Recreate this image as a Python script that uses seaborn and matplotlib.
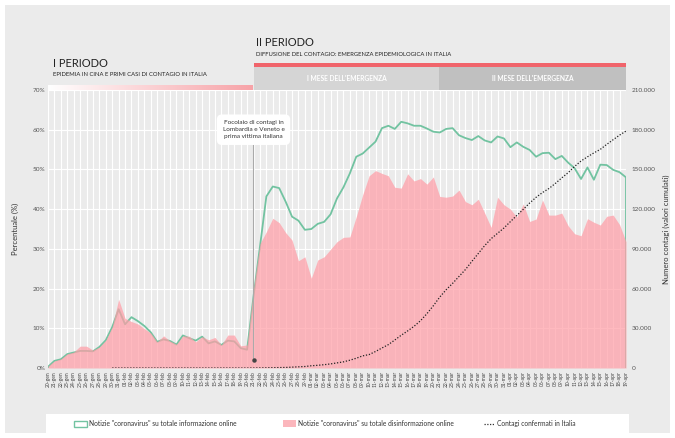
import numpy as np
import pandas as pd
import matplotlib
matplotlib.use("Agg")
import matplotlib.pyplot as plt
import seaborn as sns
from matplotlib.patches import Rectangle
from matplotlib.lines import Line2D
from matplotlib.colors import LinearSegmentedColormap

sns.set_theme(style="darkgrid")
plt.rcParams['font.family'] = ['Lato', 'DejaVu Sans']

# ---------------- data ----------------
mesi = {1: 'gen', 2: 'feb', 3: 'mar', 4: 'apr'}
giorni = pd.date_range("2020-01-20", "2020-04-19")
date_labels = [f"{d.day:02d}-{mesi[d.month]}" for d in giorni]

info_pct = [0.3, 1.8, 2.2, 3.5, 3.9, 4.3, 4.3, 4.2, 5.3, 7.0, 10.3, 14.8, 11.0, 12.8, 11.8, 10.6,
            9.0, 6.6, 7.2, 6.8, 5.9, 8.2, 7.5, 6.9, 7.9, 6.2, 6.7, 5.8, 6.9, 6.7, 5.0, 4.6,
            18.0,
            30.5, 43.2, 45.7, 45.3, 41.9, 38.1, 37.1, 34.8, 35.0, 36.3, 36.8, 38.7, 42.7, 45.5,
            49.0, 53.2, 54.0, 55.5, 57.0, 60.4, 61.0, 60.2, 62.0, 61.6, 61.0, 61.0, 60.3, 59.5, 59.3,
            60.2, 60.4, 58.6, 57.9, 57.4, 58.4, 57.3, 56.8, 58.3, 57.8, 55.6, 56.8, 55.7, 54.9,
            53.2, 54.1, 54.2, 52.6, 53.4, 51.7, 50.3, 47.6, 50.5, 47.4, 51.2, 51.1, 49.9, 49.3, 48.0]

disinfo_pct = [0.5, 1.8, 2.3, 3.6, 4.0, 5.5, 5.5, 4.5, 5.3, 7.0, 10.4, 17.3, 12.5, 11.7, 11.1, 9.9,
               8.8, 6.6, 8.1, 6.8, 6.0, 8.1, 8.0, 6.6, 7.9, 7.1, 7.7, 5.8, 8.3, 8.3, 5.6, 5.8,
               20.0,
               31.3, 34.3, 37.7, 36.6, 34.1, 32.2, 27.0, 28.0, 22.6, 27.2, 28.0, 29.9, 31.8, 32.9,
               33.0, 38.1, 43.6, 48.4, 49.7, 49.0, 48.4, 45.5, 45.3, 48.9, 47.1, 47.7, 46.3, 48.1, 43.2,
               43.0, 43.3, 44.8, 41.9, 41.1, 42.5, 39.0, 35.4, 43.0, 41.1, 40.0, 38.0, 41.3, 36.9,
               37.5, 42.3, 38.5, 38.5, 39.0, 35.8, 33.8, 33.3, 37.6, 36.7, 36.0, 38.2, 38.5, 36.1, 31.8]

contagi = [np.nan] * 10 + [2, 2, 2, 2, 2, 2, 2, 3, 3, 3, 3, 3, 3, 3, 3, 3, 3, 3, 3, 3, 3, 3,
           20, 79, 152, 229, 322, 400, 650, 888, 1128,
           1694, 2036, 2502, 3089, 3858, 4636, 5883, 7375, 9172, 10149, 12462, 15113, 17660,
           21157, 24747, 27980, 31506, 35713, 41035, 47021, 53578, 59138, 63927, 69176, 74386,
           80539, 86498, 92472, 97689, 101739, 105792,
           110574, 115242, 119827, 124632, 128948, 132547, 135586, 139422, 143626, 147577,
           152271, 156363, 159516, 162488, 165155, 168941, 172434, 175925, 178972]

pct_ticks = [0, 10, 20, 30, 40, 50, 60, 70]
contagi_ticks = [0, 30000, 60000, 90000, 120000, 150000, 180000, 210000]

evento_idx = 32
evento_testo = "Focolaio di contagi in\nLombardia e Veneto e\nprima vittima italiana"

GREEN = '#72c3a1'
PINK = '#ff9ea7'
BG = '#ebebeb'

W, H = 675, 438
def fx(px):
    return px / W
def fy(py):
    return 1 - py / H

fig = plt.figure(figsize=(6.75, 4.38), dpi=100)
fig.patch.set_facecolor('white')
fig.add_artist(Rectangle((fx(5), fy(433)), fx(670) - fx(5), fy(5) - fy(433),
                         transform=fig.transFigure, facecolor=BG, edgecolor='none', zorder=-10))

ax = fig.add_axes([fx(48), fy(368), fx(626) - fx(48), fy(90) - fy(368)])
ax.set_facecolor(BG)
xs = np.arange(len(date_labels))

# green series drawn as an outlined area (no fill)
gx = np.r_[xs[0], xs, xs[-1]]
gy = np.r_[0, info_pct, 0]
sns.lineplot(x=gx, y=gy, estimator=None, sort=False, color=GREEN, lw=1.3, ax=ax, zorder=2)
ax.fill_between(xs, disinfo_pct, color=PINK, alpha=0.72, lw=0, zorder=3)

ax.set_xlim(0, len(xs) - 1)
ax.set_ylim(0, 70)
ax.set_xticks(xs)
ax.set_xticklabels(date_labels, rotation=90, fontsize=3.6, color='#444444')
ax.set_yticks(pct_ticks)
ax.set_yticklabels([f"{v}%" for v in pct_ticks], fontsize=4.6, color='#555555')
ax.tick_params(length=0, pad=2)
ax.grid(True, color='white', lw=0.8)
ax.set_axisbelow(True)
for s in ax.spines.values():
    s.set_visible(False)
ax.set_xlabel('')
ax.set_ylabel('Percentuale (%)', fontsize=5.5, color='#333333', labelpad=10)

ax2 = ax.twinx()
sns.lineplot(x=xs, y=contagi, color='#222222', lw=0.9, ax=ax2, zorder=5)
ax2.lines[-1].set_linestyle((0, (1, 1.4)))
ax2.set_ylim(0, 210000)
ax2.set_yticks(contagi_ticks)
ax2.set_yticklabels([f"{v:,}".replace(',', '.') for v in contagi_ticks], fontsize=4.6, color='#555555')
ax2.tick_params(length=0, pad=4)
ax2.grid(False)
for s in ax2.spines.values():
    s.set_visible(False)
ax2.set_ylabel('Numero contagi (valori cumulati)', fontsize=5.5, color='#333333', labelpad=5)

# annotation
ax.annotate(evento_testo, xy=(evento_idx, 2.0), xytext=(evento_idx, 60),
            ha='center', va='center', fontsize=4.6, color='#333333', linespacing=1.5,
            bbox=dict(boxstyle='round,pad=0.9,rounding_size=0.8', fc='white', ec='none'),
            arrowprops=dict(arrowstyle='-', color='#aaaaaa', lw=0.8, shrinkA=0, shrinkB=0),
            zorder=6)
ax.plot([evento_idx], [2.0], marker='o', ms=2.2, color='#444444', zorder=7)

# header: periods
fig.text(fx(53), fy(67), 'I PERIODO', fontsize=8, color='#222222', ha='left', va='baseline')
fig.text(fx(53), fy(76.5), 'EPIDEMIA IN CINA E PRIMI CASI DI CONTAGIO IN ITALIA', fontsize=4.2,
         color='#222222', ha='left', va='baseline')
fig.text(fx(256), fy(46), 'II PERIODO', fontsize=8, color='#222222', ha='left', va='baseline')
fig.text(fx(256), fy(56), 'DIFFUSIONE DEL CONTAGIO: EMERGENZA EPIDEMIOLOGICA IN ITALIA', fontsize=4.2,
         color='#222222', ha='left', va='baseline')

# gradient bar for period I
gax = fig.add_axes([fx(48), fy(90), fx(253) - fx(48), fy(85) - fy(90)])
grad = np.linspace(0, 1, 256)[None, :]
cmap = LinearSegmentedColormap.from_list('wp', ['#ffffff', '#f7a3a8'])
gax.imshow(grad, aspect='auto', cmap=cmap)
gax.axis('off')

# red line and month boxes for period II
fig.add_artist(Rectangle((fx(254), fy(67)), fx(626) - fx(254), fy(63) - fy(67),
                         transform=fig.transFigure, facecolor='#f0646b', edgecolor='none'))
fig.add_artist(Rectangle((fx(254), fy(90)), fx(439) - fx(254), fy(67) - fy(90),
                         transform=fig.transFigure, facecolor='#d5d5d5', edgecolor='none'))
fig.add_artist(Rectangle((fx(439), fy(90)), fx(626) - fx(439), fy(67) - fy(90),
                         transform=fig.transFigure, facecolor='#c0c0c0', edgecolor='none'))
fig.text(fx(346.5), fy(78.5), "I MESE DELL'EMERGENZA", fontsize=4.8, color='white', weight='bold',
         ha='center', va='center')
fig.text(fx(532.5), fy(78.5), "II MESE DELL'EMERGENZA", fontsize=4.8, color='white', weight='bold',
         ha='center', va='center')

# legend
fig.add_artist(Rectangle((fx(46), fy(433)), fx(629) - fx(46), fy(414) - fy(433),
                         transform=fig.transFigure, facecolor='white', edgecolor='none'))
ly = 423.5
fig.add_artist(Rectangle((fx(74), fy(426.5)), fx(87) - fx(74), fy(420.5) - fy(426.5),
                         transform=fig.transFigure, facecolor='white', edgecolor=GREEN, lw=1.0))
fig.text(fx(88.5), fy(ly), 'Notizie "coronavirus" su totale informazione online', fontsize=4.8,
         color='#333333', ha='left', va='center')
fig.add_artist(Rectangle((fx(283), fy(427)), fx(296) - fx(283), fy(420) - fy(427),
                         transform=fig.transFigure, facecolor='#fbb6bc', edgecolor='none'))
fig.text(fx(297.5), fy(ly), 'Notizie "coronavirus" su totale disinformazione online', fontsize=4.8,
         color='#333333', ha='left', va='center')
fig.add_artist(Line2D([fx(484), fx(495)], [fy(ly), fy(ly)], transform=fig.transFigure,
                      color='#333333', lw=0.9, linestyle=(0, (1, 1.2))))
fig.text(fx(497), fy(ly), 'Contagi confermati in Italia', fontsize=4.8,
         color='#333333', ha='left', va='center')

fig.savefig('out.png', dpi=100, facecolor=fig.get_facecolor())
